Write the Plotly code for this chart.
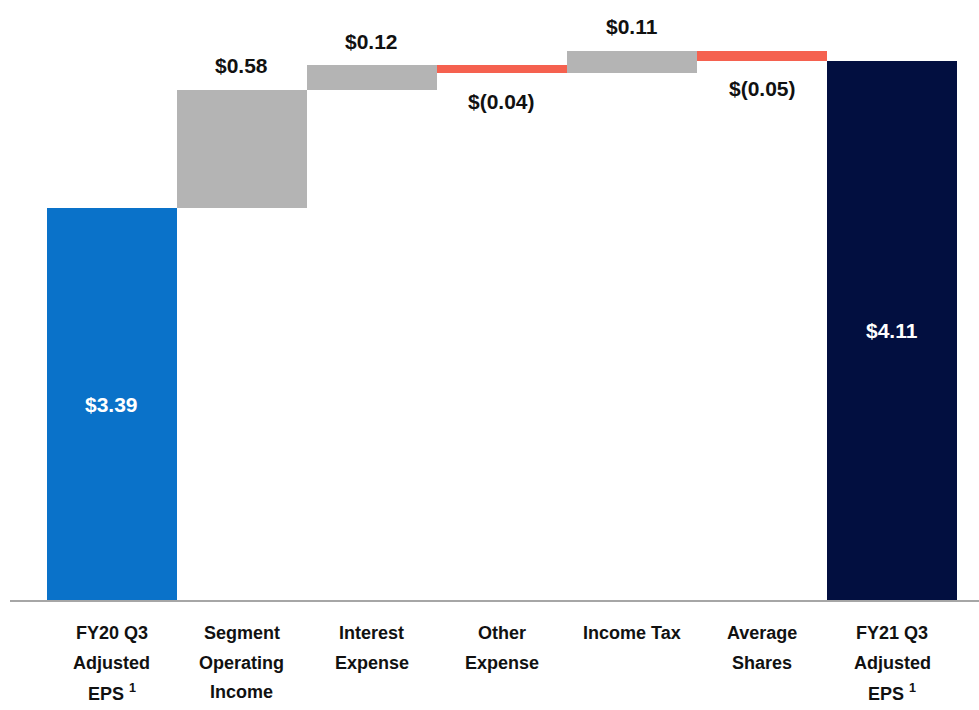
import plotly.graph_objects as go

category_lines = [
    ["FY20 Q3", "Adjusted", "EPS <sup>1</sup>"],
    ["Segment", "Operating", "Income"],
    ["Interest", "Expense"],
    ["Other", "Expense"],
    ["Income Tax"],
    ["Average", "Shares"],
    ["FY21 Q3", "Adjusted", "EPS <sup>1</sup>"],
]
start_value = 3.39
changes = [0.58, 0.12, -0.04, 0.11, -0.05]
end_value = 4.11
change_labels = ["$0.58", "$0.12", "$(0.04)", "$0.11", "$(0.05)"]
start_label = "$3.39"
end_label = "$4.11"

BLUE = "#0a72c9"
NAVY = "#020f40"
GRAY = "#b4b4b4"
RED = "#f5614f"
TXT = "#111111"
FONT = "Liberation Sans, Arial, sans-serif"

y_lo, y_hi = 1.476, 4.408

xs = list(range(len(category_lines)))
bases, heights, colors = [0], [start_value], [BLUE]
running = start_value
for d in changes:
    bases.append(running + min(d, 0))
    heights.append(abs(d))
    colors.append(GRAY if d >= 0 else RED)
    running += d
bases.append(0)
heights.append(end_value)
colors.append(NAVY)

fig = go.Figure(go.Bar(
    x=xs, y=heights, base=bases, width=1.0,
    marker=dict(color=colors, line=dict(width=0)),
    hoverinfo="skip",
))

annotations = []
# inside labels for the two totals
for xi, val, lab in [(0, start_value, start_label), (6, end_value, end_label)]:
    annotations.append(dict(
        x=xi, y=(max(y_lo, 0) + val) / 2, text=lab, showarrow=False,
        font=dict(family=FONT, size=21, color="white", weight="bold"),
        xanchor="center", yanchor="middle",
    ))
# labels for the changes
running = start_value
for i, (d, lab) in enumerate(zip(changes, change_labels), start=1):
    top = running + max(d, 0)
    bot = running + min(d, 0)
    if d >= 0:
        annotations.append(dict(x=i, y=top, text=lab, showarrow=False,
                                yanchor="middle", yshift=24,
                                font=dict(family=FONT, size=21, color=TXT, weight="bold")))
    else:
        annotations.append(dict(x=i, y=bot, text=lab, showarrow=False,
                                yanchor="middle", yshift=-28,
                                font=dict(family=FONT, size=21, color=TXT, weight="bold")))
    running += d

# category labels, one annotation per line for the wide line spacing
for xi, lines in zip(xs, category_lines):
    for k, line in enumerate(lines):
        annotations.append(dict(
            x=xi, xref="x", y=0, yref="paper", text=line, showarrow=False,
            xanchor="center", yanchor="middle", yshift=-33 - 29.5 * k,
            font=dict(family=FONT, size=18, color=TXT, weight="bold"),
        ))

fig.update_layout(
    width=979, height=710,
    margin=dict(l=10, r=0, t=0, b=110),
    plot_bgcolor="white", paper_bgcolor="white",
    bargap=0, showlegend=False,
    annotations=annotations,
    xaxis=dict(
        range=[-0.782, 6.667], showticklabels=False,
        showline=True, linecolor="#a6a6a6", linewidth=2,
        showgrid=False, zeroline=False, ticks="", fixedrange=True,
    ),
    yaxis=dict(range=[y_lo, y_hi], visible=False, showgrid=False,
               zeroline=False, fixedrange=True),
)

fig.write_html(
    "out.html",
    config={"displayModeBar": False, "staticPlot": True},
    post_script="document.body.style.margin='0';document.body.style.overflow='hidden';",
)
